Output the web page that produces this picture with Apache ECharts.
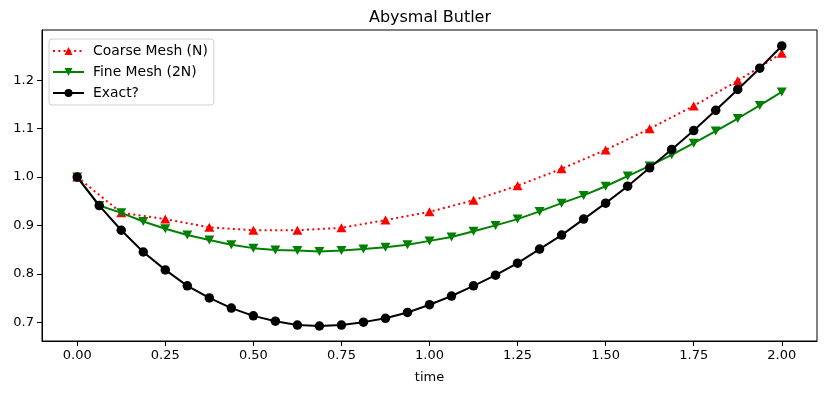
<!DOCTYPE html>
<html><head><meta charset="utf-8">
<script src="https://cdn.jsdelivr.net/npm/echarts@6/dist/echarts.min.js"></script>
<style>html,body{margin:0;padding:0;background:#fff}#c{width:826px;height:393px}</style>
</head><body><div id="c"></div>
<script>
const coarseX = [0, 0.125, 0.25, 0.375, 0.5, 0.625, 0.75, 0.875, 1.0, 1.125, 1.25, 1.375, 1.5, 1.625, 1.75, 1.875, 2.0];
const coarseY = [1.0, 0.926, 0.913, 0.896, 0.890, 0.890, 0.895, 0.911, 0.928, 0.952, 0.982, 1.017, 1.056, 1.100, 1.147, 1.199, 1.256];
const fineX = [0, 0.0625, 0.125, 0.1875, 0.25, 0.3125, 0.375, 0.4375, 0.5, 0.5625, 0.625, 0.6875, 0.75, 0.8125, 0.875, 0.9375, 1.0, 1.0625, 1.125, 1.1875, 1.25, 1.3125, 1.375, 1.4375, 1.5, 1.5625, 1.625, 1.6875, 1.75, 1.8125, 1.875, 1.9375, 2.0];
const fineY = [1.0, 0.941, 0.926, 0.908, 0.893, 0.880, 0.870, 0.860, 0.853, 0.849, 0.848, 0.846, 0.848, 0.851, 0.855, 0.860, 0.868, 0.876, 0.888, 0.900, 0.913, 0.929, 0.946, 0.962, 0.981, 1.002, 1.023, 1.046, 1.070, 1.095, 1.121, 1.148, 1.176];
const exactY = [1.0, 0.941, 0.890, 0.845, 0.808, 0.775, 0.750, 0.729, 0.713, 0.702, 0.694, 0.692, 0.694, 0.700, 0.708, 0.720, 0.736, 0.754, 0.775, 0.797, 0.822, 0.851, 0.880, 0.913, 0.946, 0.981, 1.019, 1.057, 1.096, 1.138, 1.181, 1.225, 1.271];
const xTicks = [0, 0.25, 0.5, 0.75, 1.0, 1.25, 1.5, 1.75, 2.0];
const yTicks = [0.7, 0.8, 0.9, 1.0, 1.1, 1.2];
const names = ['Coarse Mesh (N)', 'Fine Mesh (2N)', 'Exact?'];
const titleText = 'Abysmal Butler';
const xName = 'time';

const font = 'DejaVu Sans';
const pair = (xs, ys) => xs.map((x, i) => [x, ys[i]]);
const chart = echarts.init(document.getElementById('c'), null, {renderer: 'canvas'});
chart.setOption({
  animation: false,
  backgroundColor: '#fff',
  graphic: [{type: 'text', x: 430, y: 18, style: {text: titleText, align: 'center', verticalAlign: 'middle', font: '16px "DejaVu Sans"', fill: '#000'}}],
  grid: {left: 42, right: 9, top: 30, bottom: 52, show: true, borderColor: '#000', borderWidth: 1, backgroundColor: 'transparent'},
  legend: {
    orient: 'vertical', left: 49, top: 39, itemWidth: 31, itemHeight: 10, itemGap: 7,
    backgroundColor: 'rgba(255,255,255,0.8)', borderColor: '#d0d0d0', borderWidth: 1, borderRadius: 3,
    padding: [5, 6, 5, 3],
    textStyle: {fontFamily: font, fontSize: 13.9, color: '#000', padding: [0, 0, 0, 4]},
    data: names
  },
  xAxis: {
    type: 'value', min: -0.1, max: 2.1,
    name: xName, nameLocation: 'middle', nameGap: 30,
    nameTextStyle: {fontFamily: font, fontSize: 13, color: '#000'},
    axisLine: {show: true, onZero: false, lineStyle: {color: '#000', width: 1}},
    axisTick: {show: true, length: 5, customValues: xTicks, lineStyle: {color: '#000'}},
    axisLabel: {customValues: xTicks, margin: 8, fontFamily: font, fontSize: 13, color: '#000', formatter: v => v.toFixed(2)},
    splitLine: {show: false}
  },
  yAxis: {
    type: 'value', min: 0.661, max: 1.304,
    axisLine: {show: true, onZero: false, lineStyle: {color: '#000', width: 1}},
    axisTick: {show: true, length: 5, customValues: yTicks, lineStyle: {color: '#000'}},
    axisLabel: {customValues: yTicks, margin: 8, fontFamily: font, fontSize: 13, color: '#000', formatter: v => v.toFixed(1)},
    splitLine: {show: false}
  },
  series: [
    {name: names[0], type: 'line', data: pair(coarseX, coarseY), symbol: 'triangle', symbolSize: [10, 9],
     lineStyle: {color: '#ff0000', width: 2, type: [2, 3.3]}, itemStyle: {color: '#ff0000'}, z: 2},
    {name: names[1], type: 'line', data: pair(fineX, fineY), symbol: 'triangle', symbolRotate: 180, symbolSize: [10, 9],
     lineStyle: {color: '#008000', width: 2}, itemStyle: {color: '#008000'}, z: 3},
    {name: names[2], type: 'line', data: pair(fineX, exactY), symbol: 'circle', symbolSize: 9.5,
     lineStyle: {color: '#000000', width: 2}, itemStyle: {color: '#000000'}, z: 4}
  ]
});
</script></body></html>
